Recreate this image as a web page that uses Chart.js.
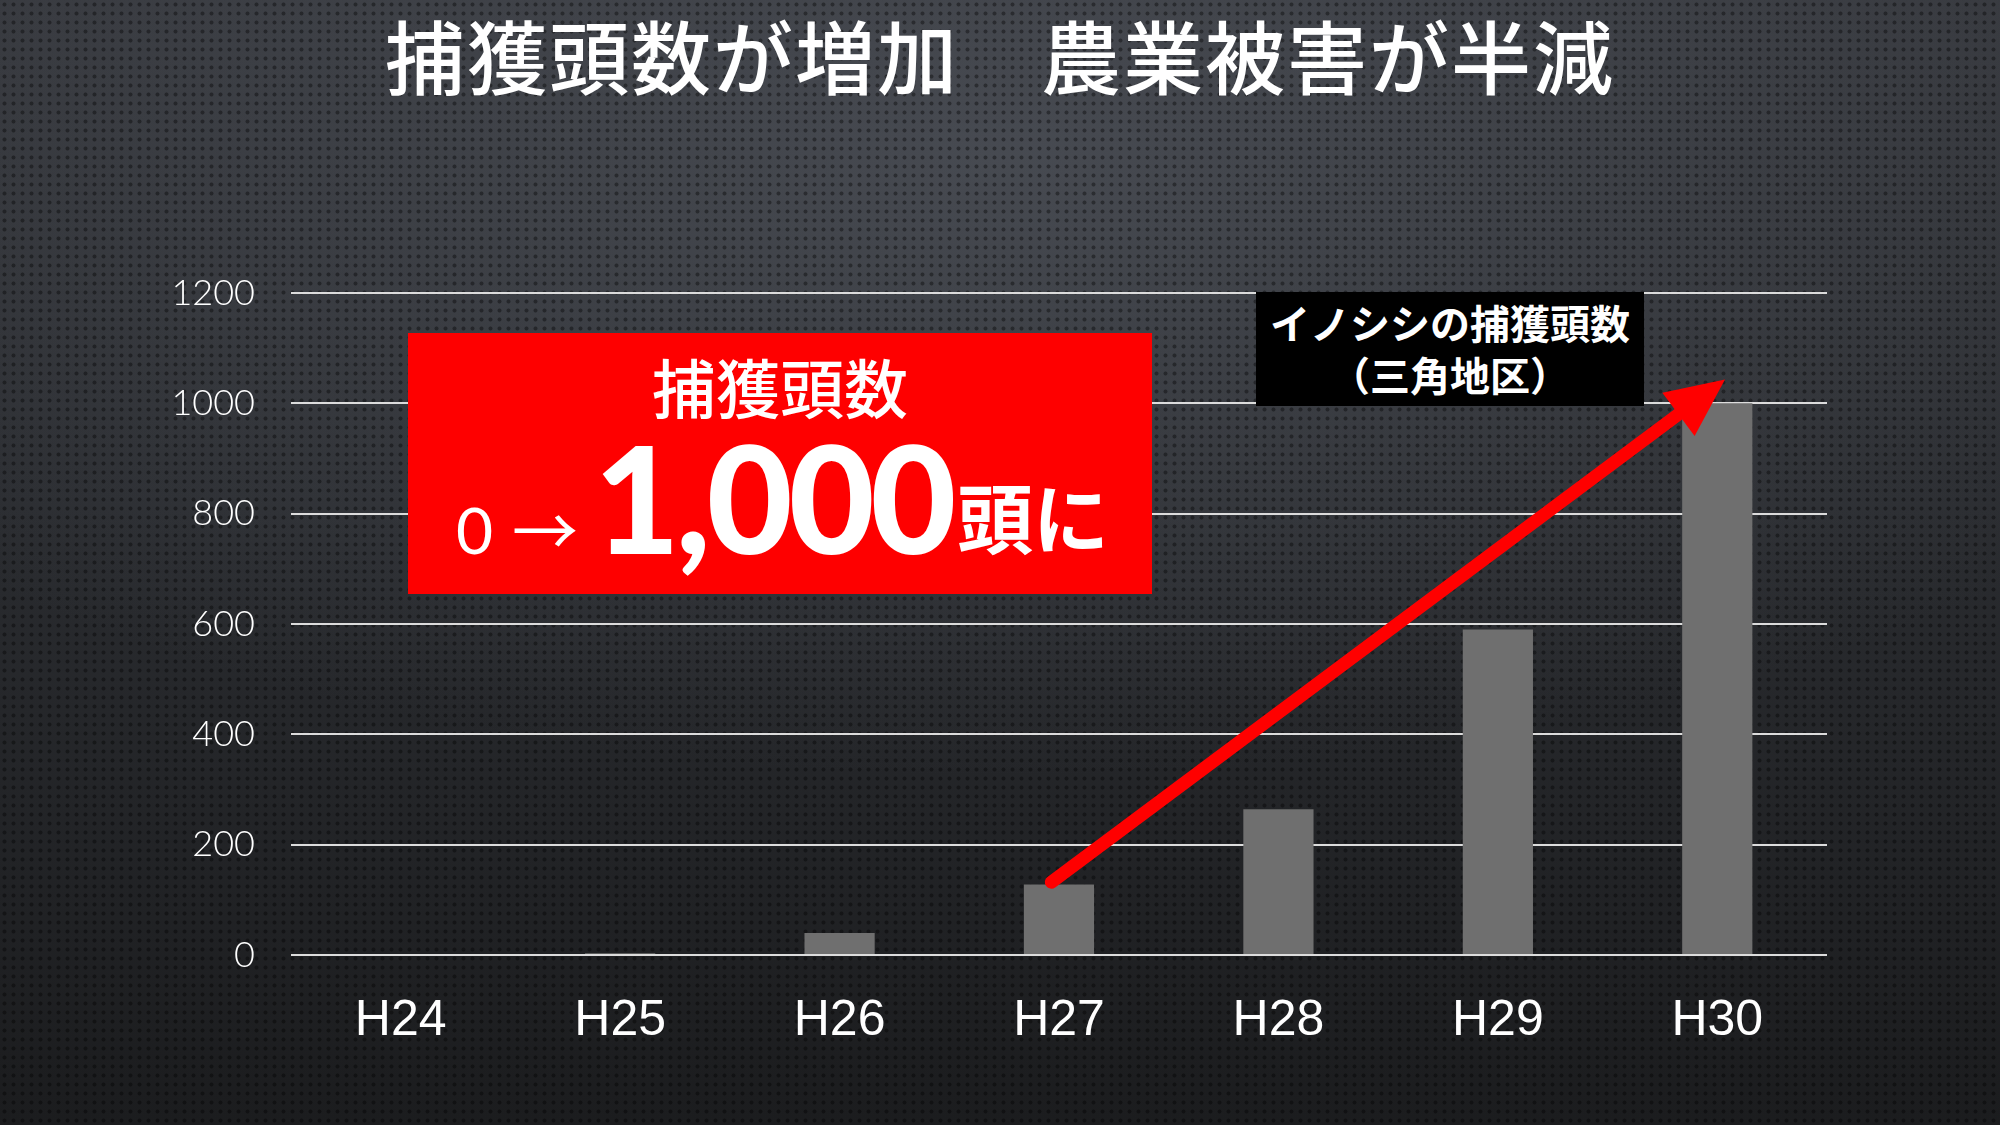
<!DOCTYPE html>
<html>
<head>
<meta charset="utf-8">
<script src="https://cdn.jsdelivr.net/npm/chart.js@4.4.1/dist/chart.umd.min.js"></script>
<style>
  html, body { margin: 0; padding: 0; }
  body {
    width: 2000px; height: 1125px; overflow: hidden; position: relative;
    background-color: #26282c;
    background-image:
      radial-gradient(circle, rgba(0,0,0,0.38) 1.6px, rgba(0,0,0,0) 2.4px),
      radial-gradient(ellipse 70% 55% at 50% 14%, rgba(80,84,92,0.7), rgba(80,84,92,0) 100%),
      linear-gradient(to bottom, #34363b 0%, #2a2c30 45%, #1b1c1e 100%);
    background-size: 9px 9px, 100% 100%, 100% 100%;
  }
  #wrap { position: absolute; left: 0; top: 0; width: 2000px; height: 1125px; }
  .title {
    position: absolute; left: 0; width: 2000px; top: -5px; text-align: center;
    font-family: "Noto Sans CJK JP"; font-weight: 500; font-size: 80px; color: #fff;
    letter-spacing: 2px; white-space: pre;
  }
  .redbox {
    position: absolute; left: 408px; top: 333px; width: 744px; height: 261px;
    background: #fe0000;
  }
  .redbox .t1 {
    position: absolute; left: 0; width: 744px; top: 14px; text-align: center;
    font-family: "Noto Sans CJK JP"; font-weight: 500; font-size: 64px; color: #fff;
    line-height: 1.2;
  }
  .redbox .zero {
    position: absolute; left: 48px; top: 165px; font-family: "Lato"; font-weight: 400;
    font-size: 64px; color: #fff; line-height: 1;
  }
  .redbox .arr {
    position: absolute; left: 104px; top: 161px; font-family: "Noto Sans CJK JP"; font-weight: 400;
    font-size: 66px; color: #fff; line-height: 1;
  }
  .redbox .big {
    position: absolute; left: 186px; top: 76px; font-family: "Lato"; font-weight: 900;
    font-size: 148px; color: #fff; line-height: 1.2; letter-spacing: -4px;
  }
  .redbox .unit {
    position: absolute; left: 549px; top: 137px; font-family: "Noto Sans CJK JP"; font-weight: 700;
    font-size: 76px; color: #fff; line-height: 1.2;
  }
  .blackbox {
    position: absolute; left: 1256px; top: 292px; width: 388px; height: 114px;
    background: #000; color: #fff; text-align: center;
    font-family: "Noto Sans CJK JP"; font-weight: 700; font-size: 40px; line-height: 52px;
    padding-top: 4px; box-sizing: border-box;
  }
</style>
</head>
<body>
<div id="wrap"><canvas id="chart" width="2000" height="1125"></canvas></div>
<div class="title">捕獲頭数が増加　農業被害が半減</div>
<div class="redbox">
  <div class="t1">捕獲頭数</div>
  <div class="zero">0</div>
  <div class="arr">→</div>
  <div class="big">1,000</div>
  <div class="unit">頭に</div>
</div>
<div class="blackbox">イノシシの捕獲頭数<br>（三角地区）</div>
<script>
  // data
  var years = ['H24', 'H25', 'H26', 'H27', 'H28', 'H29', 'H30'];
  var catches = [0, 3, 40, 128, 264, 590, 1000];
  var yTicks = [0, 200, 400, 600, 800, 1000, 1200];

  // red trend arrow, in data units (category index, value)
  var arrowFrom = [2.965, 132];
  var arrowTo = [6.035, 1043];

  var arrowPlugin = {
    id: 'trendArrow',
    afterDatasetsDraw: function (chart) {
      var ctx = chart.ctx;
      var xs = chart.scales.x, ys = chart.scales.y;
      var x1 = xs.getPixelForValue(arrowFrom[0]), y1 = ys.getPixelForValue(arrowFrom[1]);
      var x2 = xs.getPixelForValue(arrowTo[0]), y2 = ys.getPixelForValue(arrowTo[1]);
      var ang = Math.atan2(y2 - y1, x2 - x1);
      var headLen = 58, headW = 27;
      var bx = x2 - headLen * Math.cos(ang), by = y2 - headLen * Math.sin(ang);
      ctx.save();
      ctx.strokeStyle = '#ff0000';
      ctx.fillStyle = '#ff0000';
      ctx.lineWidth = 13;
      ctx.lineCap = 'round';
      ctx.beginPath();
      ctx.moveTo(x1, y1);
      ctx.lineTo(bx + 4 * Math.cos(ang), by + 4 * Math.sin(ang));
      ctx.stroke();
      ctx.beginPath();
      ctx.moveTo(x2, y2);
      ctx.lineTo(bx + headW * Math.sin(ang), by - headW * Math.cos(ang));
      ctx.lineTo(bx - headW * Math.sin(ang), by + headW * Math.cos(ang));
      ctx.closePath();
      ctx.fill();
      ctx.restore();
    }
  };

  var ctx = document.getElementById('chart').getContext('2d');
  var chart = new Chart(ctx, {
    type: 'bar',
    data: {
      labels: years,
      datasets: [{
        data: catches,
        backgroundColor: '#6f6f6f',
        borderWidth: 0,
        barPercentage: 0.32,
        categoryPercentage: 1.0
      }]
    },
    options: {
      responsive: false,
      animation: false,
      devicePixelRatio: 1,
      layout: { padding: { top: 293, right: 173, left: 0, bottom: 0 } },
      plugins: { legend: { display: false }, tooltip: { enabled: false } },
      scales: {
        x: {
          grid: { display: false, drawTicks: false },
          border: { display: false },
          ticks: {
            color: '#ffffff',
            padding: 36,
            font: { family: '"Liberation Sans Narrow", "Liberation Sans"', size: 50 }
          },
          afterFit: function (scale) { scale.height = 170; }
        },
        y: {
          min: 0,
          max: 1200,
          afterBuildTicks: function (scale) {
            scale.ticks = yTicks.map(function (v) { return { value: v }; });
          },
          grid: { color: '#dcdcdc', lineWidth: 2, drawTicks: false },
          border: { display: false },
          ticks: {
            color: '#ffffff',
            padding: 36,
            font: { family: 'Lato', weight: '300', size: 36 },
            callback: function (value) { return String(value); }
          },
          afterFit: function (scale) { scale.width = 291; }
        }
      }
    },
    plugins: [arrowPlugin]
  });
</script>
</body>
</html>
